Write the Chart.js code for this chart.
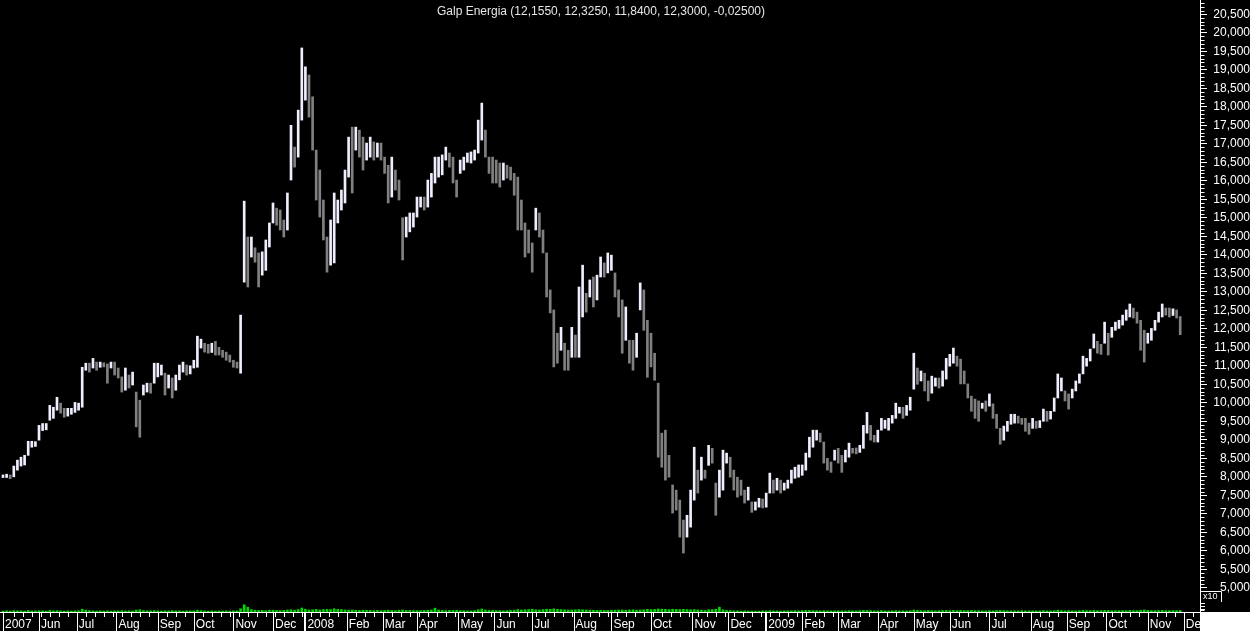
<!DOCTYPE html>
<html>
<head>
<meta charset="utf-8">
<title>Galp Energia</title>
<script src="https://cdn.jsdelivr.net/npm/chart.js@4.4.1/dist/chart.umd.min.js"></script>
<style>
  html, body { margin: 0; padding: 0; background: #000; }
  canvas { display: block; }
</style>
</head>
<body>
<canvas id="galp" width="1250" height="631"></canvas>
<script>
// title line as shown by the charting package (open, high, low, close, change)
const titleText = 'Galp Energia (12,1550, 12,3250, 11,8400, 12,3000, -0,02500)';

// month boundaries, in trading days from the first bar
const monthLabels = ['2007', 'Jun', 'Jul', 'Aug', 'Sep', 'Oct', 'Nov', 'Dec',
  '2008', 'Feb', 'Mar', 'Apr', 'May', 'Jun', 'Jul', 'Aug', 'Sep', 'Oct', 'Nov', 'Dec',
  '2009', 'Feb', 'Mar', 'Apr', 'May', 'Jun', 'Jul', 'Aug', 'Sep', 'Oct', 'Nov', 'Dec'];
const monthStarts = [0, 20, 41, 63, 86, 106, 128, 150, 168, 191, 211, 230, 253, 273, 294, 317,
  338, 360, 383, 403, 424, 444, 464, 486, 506, 526, 548, 571, 591, 613, 636, 656];

// price axis labels (EUR)
const priceTicks = [5.0, 5.5, 6.0, 6.5, 7.0, 7.5, 8.0, 8.5, 9.0, 9.5, 10.0, 10.5, 11.0, 11.5,
  12.0, 12.5, 13.0, 13.5, 14.0, 14.5, 15.0, 15.5, 16.0, 16.5, 17.0, 17.5, 18.0, 18.5, 19.0,
  19.5, 20.0, 20.5];

// one bar per two trading days: high and low
const highs = [
  8.05, 8.07, 8.05, 8.29, 8.45, 8.53, 8.58, 8.96, 8.96, 8.95,
  9.39, 9.44, 9.44, 9.93, 9.88, 10.15, 9.99, 9.85, 9.85, 9.85,
  10.01, 9.99, 10.96, 11.07, 11.07, 11.20, 11.10, 11.10, 11.08, 11.05,
  11.10, 11.10, 10.94, 10.70, 10.94, 10.75, 10.83, 10.29, 10.07, 10.48,
  10.53, 10.53, 11.07, 11.07, 11.02, 10.80, 10.75, 10.67, 10.75, 11.02,
  11.10, 11.02, 11.00, 11.15, 11.80, 11.72, 11.61, 11.58, 11.61, 11.66,
  11.50, 11.42, 11.37, 11.29, 11.15, 11.10, 12.37, 15.45, 14.48, 14.48,
  14.19, 14.05, 14.08, 14.40, 14.86, 15.40, 15.26, 15.21, 14.94, 15.67,
  17.50, 16.91, 17.91, 19.59, 19.08, 18.86, 18.27, 16.83, 16.29, 15.48,
  14.48, 14.94, 15.67, 15.48, 15.75, 16.29, 17.18, 17.45, 17.45, 17.37,
  17.18, 17.02, 17.18, 17.05, 17.02, 17.02, 16.64, 16.42, 16.64, 16.29,
  16.02, 15.00, 15.02, 15.13, 15.13, 15.56, 15.56, 15.56, 16.02, 16.20,
  16.64, 16.64, 16.70, 16.91, 16.75, 16.64, 16.02, 16.56, 16.64, 16.75,
  16.78, 16.83, 17.64, 18.10, 17.37, 16.64, 16.64, 16.56, 16.48, 16.48,
  16.42, 16.37, 16.20, 16.10, 15.48, 14.86, 14.67, 14.32, 15.26, 15.13,
  14.67, 14.05, 13.05, 12.51, 11.88, 12.04, 11.61, 11.42, 12.04, 11.83,
  13.13, 13.72, 12.96, 13.32, 13.40, 13.45, 13.94, 13.78, 14.05, 13.99,
  13.51, 13.05, 12.78, 12.59, 11.69, 11.69, 11.88, 13.24, 13.05, 12.23,
  11.88, 11.34, 10.53, 9.18, 9.26, 8.58, 7.78, 7.64, 7.37, 6.83,
  6.96, 7.64, 8.80, 8.18, 8.53, 8.18, 8.85, 8.77, 7.83, 8.18,
  8.72, 8.64, 8.53, 8.18, 7.99, 7.91, 7.64, 7.72, 7.32, 7.32,
  7.42, 7.40, 7.56, 8.10, 7.91, 7.96, 7.91, 7.83, 7.91, 8.18,
  8.26, 8.32, 8.32, 8.64, 9.07, 9.26, 9.26, 9.18, 8.94, 8.50,
  8.40, 8.72, 8.77, 8.58, 8.72, 8.91, 8.77, 8.78, 8.85, 9.39,
  9.74, 9.39, 9.12, 9.26, 9.58, 9.53, 9.58, 9.66, 9.99, 9.88,
  9.88, 9.93, 10.15, 11.34, 10.94, 10.86, 10.80, 10.59, 10.72, 10.67,
  10.67, 10.86, 11.20, 11.31, 11.48, 11.26, 11.18, 10.86, 10.51, 10.18,
  10.10, 10.05, 9.99, 10.05, 10.24, 9.97, 9.69, 9.31, 9.37, 9.50,
  9.69, 9.69, 9.64, 9.58, 9.58, 9.45, 9.58, 9.50, 9.52, 9.83,
  9.77, 9.77, 10.13, 10.78, 10.67, 10.32, 10.24, 10.37, 10.59, 10.78,
  11.26, 11.20, 11.45, 11.86, 11.66, 11.58, 12.18, 11.88, 12.04, 12.18,
  12.23, 12.37, 12.51, 12.67, 12.56, 12.45, 12.23, 11.96, 11.88, 12.01,
  12.23, 12.45, 12.67, 12.56, 12.56, 12.54, 12.51, 12.33
];
const lows = [
  7.98, 7.98, 7.95, 8.00, 8.18, 8.29, 8.32, 8.58, 8.80, 8.82,
  8.99, 9.25, 9.27, 9.53, 9.58, 9.80, 9.72, 9.61, 9.64, 9.69,
  9.74, 9.80, 9.88, 10.88, 10.83, 10.94, 10.88, 10.96, 10.97, 10.53,
  10.94, 10.75, 10.67, 10.29, 10.34, 10.40, 10.48, 9.35, 9.07, 10.21,
  10.29, 10.26, 10.53, 10.70, 10.75, 10.21, 10.40, 10.13, 10.34, 10.62,
  10.83, 10.75, 10.78, 10.94, 10.96, 11.48, 11.37, 11.34, 11.36, 11.29,
  11.29, 11.23, 11.15, 11.10, 10.96, 10.94, 10.80, 13.26, 13.13, 13.94,
  13.80, 13.13, 13.45, 13.58, 14.21, 14.86, 14.80, 14.67, 14.48, 14.67,
  16.02, 16.37, 16.64, 17.64, 18.18, 17.72, 16.83, 15.48, 15.02, 14.40,
  13.53, 13.72, 13.78, 14.86, 15.21, 15.40, 16.10, 15.67, 16.83, 16.64,
  16.29, 16.56, 16.64, 16.56, 16.64, 16.56, 16.20, 15.40, 15.56, 15.75,
  15.48, 13.86, 14.48, 14.62, 14.75, 15.02, 15.29, 15.21, 15.29, 15.56,
  15.94, 16.10, 16.16, 16.56, 16.37, 15.94, 15.56, 16.20, 16.29, 16.50,
  16.48, 16.56, 16.75, 17.10, 16.64, 16.20, 15.94, 15.94, 15.83, 16.02,
  16.07, 16.02, 15.61, 14.67, 14.67, 13.94, 14.05, 13.53, 14.67, 14.48,
  14.05, 12.86, 12.43, 10.97, 11.07, 11.42, 10.88, 10.88, 11.23, 11.23,
  11.23, 12.32, 12.45, 12.86, 12.59, 12.78, 13.40, 13.40, 13.51, 13.58,
  12.86, 12.32, 11.34, 11.69, 11.07, 10.88, 11.23, 12.51, 11.96, 10.69,
  10.97, 10.61, 8.53, 8.26, 7.91, 7.99, 7.02, 7.10, 6.37, 5.94,
  6.37, 6.64, 7.37, 7.56, 7.91, 7.96, 8.31, 8.37, 6.96, 7.45,
  7.64, 8.37, 7.99, 7.64, 7.45, 7.50, 7.29, 7.37, 7.04, 7.10,
  7.18, 7.16, 7.18, 7.56, 7.56, 7.64, 7.56, 7.64, 7.69, 7.83,
  7.96, 7.99, 8.04, 8.18, 8.53, 8.80, 8.99, 8.94, 8.37, 8.18,
  8.12, 8.45, 8.37, 8.12, 8.40, 8.53, 8.64, 8.62, 8.66, 8.77,
  9.18, 8.99, 8.94, 8.94, 9.26, 9.31, 9.26, 9.45, 9.58, 9.72,
  9.58, 9.66, 9.80, 10.37, 10.50, 10.59, 10.32, 10.05, 10.26, 10.45,
  10.40, 10.45, 10.64, 10.99, 11.07, 10.99, 10.51, 10.51, 10.13, 9.77,
  9.58, 9.50, 9.85, 9.77, 9.91, 9.58, 9.31, 8.88, 8.99, 9.23,
  9.42, 9.45, 9.45, 9.42, 9.23, 9.15, 9.31, 9.31, 9.33, 9.50,
  9.50, 9.56, 9.77, 10.13, 10.32, 10.05, 9.83, 10.13, 10.32, 10.53,
  10.78, 10.99, 11.13, 11.48, 11.34, 11.31, 11.61, 11.29, 11.77, 11.96,
  12.01, 12.10, 12.23, 12.32, 12.29, 12.15, 11.42, 11.10, 11.61, 11.69,
  11.96, 12.18, 12.32, 12.37, 12.32, 12.36, 12.29, 11.84
];
// volume, millions of shares per bar
const volumes = [
  0.5, 0.6, 0.5, 0.7, 0.6, 0.6, 0.5, 0.8, 0.6, 0.6,
  0.7, 0.6, 0.5, 0.8, 0.6, 0.7, 0.6, 0.5, 0.6, 0.5,
  0.6, 0.6, 1.4, 0.9, 0.7, 0.6, 0.5, 0.6, 0.5, 0.6,
  0.5, 0.6, 0.6, 0.7, 0.6, 0.6, 0.5, 1.0, 1.1, 0.7,
  0.6, 0.6, 0.7, 0.6, 0.5, 0.6, 0.6, 0.7, 0.6, 0.6,
  0.5, 0.6, 0.6, 0.6, 0.9, 0.7, 0.6, 0.5, 0.6, 0.5,
  0.6, 0.5, 0.6, 0.5, 0.6, 0.6, 1.6, 3.6, 2.4, 1.2,
  0.9, 0.8, 0.8, 0.7, 0.9, 0.9, 0.8, 0.7, 0.8, 1.0,
  1.1, 0.9, 1.2, 2.0, 1.4, 1.0, 1.1, 1.3, 1.0, 1.2,
  1.3, 1.2, 1.6, 1.3, 1.2, 1.0, 0.9, 1.0, 0.9, 0.8,
  0.9, 0.8, 0.8, 0.7, 0.8, 0.7, 0.8, 0.9, 0.8, 0.7,
  0.9, 1.0, 0.8, 0.8, 0.7, 0.7, 0.7, 0.8, 0.9, 1.0,
  1.9, 1.0, 0.8, 0.7, 0.8, 0.8, 0.9, 0.7, 0.7, 0.6,
  0.6, 0.7, 1.1, 1.5, 1.0, 0.8, 0.8, 0.7, 0.7, 0.6,
  0.7, 0.8, 0.9, 1.2, 1.0, 1.1, 1.2, 1.4, 1.1, 1.0,
  1.2, 1.4, 1.3, 1.6, 1.3, 1.2, 1.1, 1.0, 1.0, 1.1,
  1.2, 1.1, 1.0, 0.9, 0.9, 0.8, 0.9, 0.8, 0.8, 0.9,
  0.9, 1.0, 1.0, 0.9, 1.0, 1.1, 0.9, 1.0, 1.1, 1.3,
  1.2, 1.3, 1.5, 1.4, 1.3, 1.2, 1.4, 1.3, 1.2, 1.3,
  1.2, 1.1, 1.2, 1.0, 0.9, 0.8, 1.1, 1.2, 1.4, 2.4,
  1.1, 0.8, 0.7, 0.6, 0.6, 0.5, 0.6, 0.5, 0.5, 0.5,
  0.5, 0.6, 0.6, 0.7, 0.6, 0.6, 0.5, 0.6, 0.6, 0.6,
  0.7, 0.6, 0.7, 0.8, 0.8, 0.7, 0.7, 0.6, 0.7, 0.6,
  0.6, 0.6, 0.7, 0.6, 0.6, 0.7, 0.6, 0.6, 0.7, 0.8,
  0.8, 0.7, 0.6, 0.6, 0.7, 0.6, 0.6, 0.6, 0.7, 0.6,
  0.6, 0.6, 0.7, 1.0, 0.8, 0.7, 0.7, 0.8, 0.7, 0.6,
  0.7, 0.7, 0.8, 0.7, 0.8, 0.7, 0.8, 0.7, 0.7, 0.8,
  0.7, 0.7, 0.6, 0.6, 0.7, 0.6, 0.7, 0.8, 0.7, 0.6,
  0.6, 0.6, 0.6, 0.7, 0.6, 0.6, 0.6, 0.6, 0.6, 0.7,
  0.6, 0.6, 0.7, 0.9, 0.7, 0.6, 0.7, 0.6, 0.6, 0.7,
  0.8, 0.7, 0.7, 0.8, 0.7, 0.7, 0.8, 0.8, 0.7, 0.7,
  0.7, 0.7, 0.7, 0.8, 0.7, 0.7, 0.9, 1.0, 0.8, 0.7,
  0.7, 0.7, 0.8, 0.7, 0.7, 0.7, 0.7, 0.8
];

const UP = '#eeeeff';
const DOWN = '#808080';
const FONT = 'Liberation Sans, Arial, sans-serif';

// bar i covers trading days 2i and 2i+1
const priceBars = highs.map((h, i) => ({ x: 2 * i, y: [lows[i], h] }));
const volumeBars = volumes.map((v, i) => ({ x: 2 * i, y: v }));
const barColors = highs.map((h, i) => {
  if (i === 0) return UP;
  const mid = (h + lows[i]) / 2;
  const prev = (highs[i - 1] + lows[i - 1]) / 2;
  return mid >= prev ? UP : DOWN;
});

const chartDecor = {
  id: 'chartDecor',
  beforeDraw(chart) {
    const ctx = chart.ctx;
    ctx.save();
    ctx.fillStyle = '#000';
    ctx.fillRect(0, 0, chart.width, chart.height);
    ctx.restore();
  },
  afterDraw(chart) {
    const { ctx, scales: { x, y } } = chart;
    const axisY = Math.round(x.top);
    const axisX = Math.round(y.left);
    ctx.save();
    ctx.strokeStyle = '#fff';
    ctx.lineWidth = 1;
    ctx.beginPath();
    // minor price ticks every 0,100
    for (let v = 44; v <= 208; v++) {
      if (v % 5 === 0) continue;
      const py = Math.round(y.getPixelForValue(v / 10)) + 0.5;
      ctx.moveTo(axisX, py);
      ctx.lineTo(axisX + 4.5, py);
    }
    // weekly ticks under the time axis
    for (let d = 6; d < x.max; d += 5) {
      const px = Math.round(x.getPixelForValue(d)) + 0.5;
      ctx.moveTo(px, axisY);
      ctx.lineTo(px, axisY + 5);
    }
    // month separators
    monthStarts.forEach((d, i) => {
      const px = Math.round(x.getPixelForValue(d)) + 0.5;
      ctx.moveTo(px, axisY);
      ctx.lineTo(px, chart.height);
      if (/^\d{4}$/.test(monthLabels[i]) && i > 0) {
        ctx.moveTo(px - 1, axisY);
        ctx.lineTo(px - 1, chart.height);
      }
    });
    // small volume scale ticks
    [603.5, 606.5, 609.5].forEach(py => {
      ctx.moveTo(axisX, py);
      ctx.lineTo(axisX + 5, py);
    });
    ctx.stroke();

    // corner block and volume multiplier box
    ctx.fillStyle = '#fff';
    ctx.fillRect(axisX, axisY, chart.width - axisX, chart.height - axisY);
    ctx.fillStyle = '#000';
    ctx.fillRect(axisX + 1, 591, 21, 10);
    ctx.beginPath();
    ctx.moveTo(axisX, 591.5);
    ctx.lineTo(axisX + 21.5, 591.5);
    ctx.lineTo(axisX + 21.5, 602);
    ctx.stroke();
    ctx.fillStyle = '#fff';
    ctx.font = '9px ' + FONT;
    ctx.textBaseline = 'middle';
    ctx.textAlign = 'left';
    ctx.fillText('x10', axisX + 3, 597);

    // title
    ctx.font = '12px ' + FONT;
    ctx.fillStyle = '#e6e6e6';
    ctx.textAlign = 'center';
    ctx.textBaseline = 'alphabetic';
    ctx.fillText(titleText, 601, 15);
    ctx.restore();
  }
};

new Chart(document.getElementById('galp').getContext('2d'), {
  type: 'bar',
  data: {
    datasets: [
      {
        label: 'Galp Energia',
        data: priceBars,
        backgroundColor: barColors,
        borderWidth: 0,
        barThickness: 2,
        grouped: false,
        yAxisID: 'y'
      },
      {
        label: 'Volume',
        data: volumeBars,
        backgroundColor: '#00d800',
        borderWidth: 0,
        barThickness: 2,
        grouped: false,
        yAxisID: 'yv'
      }
    ]
  },
  options: {
    responsive: false,
    animation: false,
    devicePixelRatio: 1,
    layout: { padding: 0 },
    scales: {
      x: {
        type: 'linear',
        position: 'bottom',
        offset: false,
        min: -1.667,
        max: 665,
        grid: { display: false, drawTicks: false },
        border: { display: true, color: '#fff', width: 1 },
        afterBuildTicks: (scale) => {
          scale.ticks = monthStarts.map((v) => ({ value: v }));
        },
        afterFit: (scale) => {
          scale.height = 19;
          scale.paddingLeft = 0;
          scale.paddingRight = 0;
        },
        ticks: {
          autoSkip: false,
          maxRotation: 0,
          minRotation: 0,
          align: 'start',
          labelOffset: 2,
          padding: 5,
          color: '#fff',
          font: { family: FONT, size: 12 },
          callback: (value, index) => monthLabels[index]
        }
      },
      y: {
        type: 'linear',
        position: 'right',
        min: 4.346,
        max: 20.886,
        grid: {
          drawOnChartArea: false,
          drawTicks: true,
          tickLength: 7,
          tickColor: '#fff'
        },
        border: { display: true, color: '#fff', width: 1 },
        afterBuildTicks: (scale) => {
          scale.ticks = priceTicks.map((v) => ({ value: v }));
        },
        afterFit: (scale) => {
          scale.width = 50;
          scale.paddingTop = 0;
          scale.paddingBottom = 0;
        },
        ticks: {
          autoSkip: false,
          crossAlign: 'far',
          padding: 3,
          color: '#fff',
          font: { family: FONT, size: 12 },
          callback: (value) => value.toFixed(3).replace('.', ',')
        }
      },
      yv: {
        type: 'linear',
        display: false,
        min: 0,
        max: 306
      }
    },
    plugins: {
      legend: { display: false },
      title: { display: false },
      tooltip: { enabled: false }
    }
  },
  plugins: [chartDecor]
});
</script>
</body>
</html>
